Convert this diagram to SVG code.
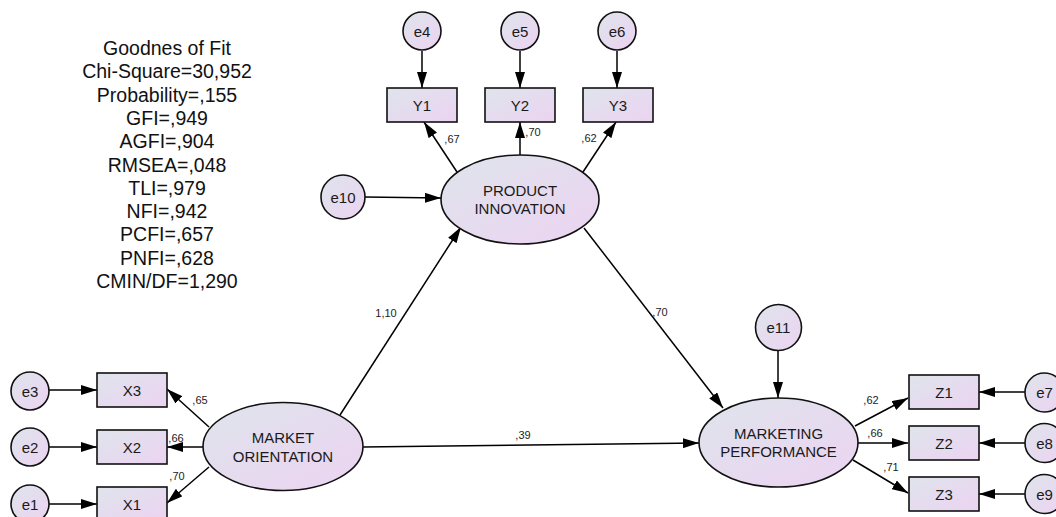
<svg xmlns="http://www.w3.org/2000/svg" width="1056" height="517" viewBox="0 0 1056 517">
<style>
.shape{fill:url(#g);stroke:#111;stroke-width:1.6}
.c{stroke:#000;stroke-width:1.5;fill:none;marker-end:url(#ah)}
.t{font-family:"Liberation Sans",Arial,sans-serif;font-size:15px;fill:#1a1a1a;text-anchor:middle}
.l{font-family:"Liberation Sans",Arial,sans-serif;font-size:11px;fill:#222;text-anchor:middle}
.fit{font-family:"Liberation Sans",Arial,sans-serif;font-size:19.5px;fill:#111;text-anchor:middle}
</style>
<defs>
<linearGradient id="g" x1="0" y1="0" x2="1" y2="1">
<stop offset="0" stop-color="#dfe4ec"/>
<stop offset="1" stop-color="#ecd3f1"/>
</linearGradient>
<marker id="ah" viewBox="0 0 16 10" refX="16" refY="5" markerWidth="16" markerHeight="10" orient="auto" markerUnits="userSpaceOnUse">
<path d="M0,0 L16,5 L0,10 z" fill="#000"/>
</marker>
</defs>
<rect width="1056" height="517" fill="#fff"/>

<g id="fit-text">
<text class="fit" x="167" y="55">Goodnes of Fit</text>
<text class="fit" x="167" y="78.3">Chi-Square=30,952</text>
<text class="fit" x="167" y="101.6">Probability=,155</text>
<text class="fit" x="167" y="124.9">GFI=,949</text>
<text class="fit" x="167" y="148.2">AGFI=,904</text>
<text class="fit" x="167" y="171.5">RMSEA=,048</text>
<text class="fit" x="167" y="194.8">TLI=,979</text>
<text class="fit" x="167" y="218.1">NFI=,942</text>
<text class="fit" x="167" y="241.4">PCFI=,657</text>
<text class="fit" x="167" y="264.7">PNFI=,628</text>
<text class="fit" x="167" y="288">CMIN/DF=1,290</text>
</g>

<g id="connectors">
<line class="c" x1="422" y1="51" x2="422" y2="88"/>
<line class="c" x1="520" y1="51" x2="520" y2="88"/>
<line class="c" x1="617" y1="51" x2="617" y2="88"/>
<line class="c" x1="457" y1="172" x2="424" y2="122"/>
<line class="c" x1="520" y1="155" x2="520" y2="122"/>
<line class="c" x1="583" y1="172" x2="616" y2="122"/>
<line class="c" x1="365" y1="197" x2="441" y2="198"/>
<line class="c" x1="209" y1="427" x2="167" y2="389"/>
<line class="c" x1="203" y1="447" x2="167" y2="447"/>
<line class="c" x1="209" y1="467" x2="167" y2="503"/>
<line class="c" x1="49" y1="390" x2="97" y2="390"/>
<line class="c" x1="49" y1="447" x2="97" y2="447"/>
<line class="c" x1="49" y1="504" x2="97" y2="504"/>
<line class="c" x1="340" y1="415" x2="461" y2="227"/>
<line class="c" x1="363" y1="447" x2="699" y2="443"/>
<line class="c" x1="584" y1="228" x2="723" y2="408"/>
<line class="c" x1="778" y1="350" x2="778" y2="398"/>
<line class="c" x1="855" y1="426" x2="908" y2="398"/>
<line class="c" x1="858" y1="443" x2="908" y2="443"/>
<line class="c" x1="853" y1="460" x2="908" y2="493"/>
<line class="c" x1="1025" y1="392" x2="979" y2="392"/>
<line class="c" x1="1025" y1="443" x2="979" y2="443"/>
<line class="c" x1="1025" y1="494" x2="979" y2="494"/>
<text class="l" x="452" y="143">,67</text>
<text class="l" x="533" y="136">,70</text>
<text class="l" x="589" y="142">,62</text>
<text class="l" x="200" y="404">,65</text>
<text class="l" x="176" y="442">,66</text>
<text class="l" x="177" y="480">,70</text>
<text class="l" x="386" y="317">1,10</text>
<text class="l" x="660" y="316">,70</text>
<text class="l" x="523" y="439">,39</text>
<text class="l" x="871" y="404">,62</text>
<text class="l" x="875" y="437">,66</text>
<text class="l" x="891" y="471">,71</text>
</g>

<g id="e4"><circle class="shape" cx="422" cy="31" r="19"/><text class="t" x="422" y="36.5">e4</text></g>
<g id="e5"><circle class="shape" cx="520" cy="31" r="19"/><text class="t" x="520" y="36.5">e5</text></g>
<g id="e6"><circle class="shape" cx="617" cy="31" r="19"/><text class="t" x="617" y="36.5">e6</text></g>
<g id="Y1"><rect class="shape" x="387" y="88" width="70" height="34"/><text class="t" x="422" y="110.5">Y1</text></g>
<g id="Y2"><rect class="shape" x="485" y="88" width="70" height="34"/><text class="t" x="520" y="110.5">Y2</text></g>
<g id="Y3"><rect class="shape" x="583" y="88" width="70" height="34"/><text class="t" x="618" y="110.5">Y3</text></g>
<g id="e10"><circle class="shape" cx="343" cy="197" r="22"/><text class="t" x="343" y="202.5">e10</text></g>
<g id="product-innovation"><ellipse class="shape" cx="520" cy="199.5" rx="79" ry="44.5"/><text class="t" x="520" y="195.5">PRODUCT</text><text class="t" x="520" y="213.5">INNOVATION</text></g>

<g id="e3"><circle class="shape" cx="30" cy="391" r="19"/><text class="t" x="30" y="396.5">e3</text></g>
<g id="e2"><circle class="shape" cx="30" cy="447" r="19"/><text class="t" x="30" y="452.5">e2</text></g>
<g id="e1"><circle class="shape" cx="30" cy="504" r="19"/><text class="t" x="30" y="509.5">e1</text></g>
<g id="X3"><rect class="shape" x="97" y="373" width="70" height="34"/><text class="t" x="132" y="395.5">X3</text></g>
<g id="X2"><rect class="shape" x="97" y="430" width="70" height="34"/><text class="t" x="132" y="452.5">X2</text></g>
<g id="X1"><rect class="shape" x="97" y="487" width="70" height="34"/><text class="t" x="132" y="509.5">X1</text></g>
<g id="market-orientation"><ellipse class="shape" cx="283" cy="446.5" rx="80" ry="44"/><text class="t" x="283" y="443">MARKET</text><text class="t" x="283" y="461.5">ORIENTATION</text></g>

<g id="e11"><circle class="shape" cx="778.5" cy="327.5" r="23"/><text class="t" x="778.5" y="333">e11</text></g>
<g id="marketing-performance"><ellipse class="shape" cx="778.5" cy="442.5" rx="79.5" ry="44.5"/><text class="t" x="778.5" y="439">MARKETING</text><text class="t" x="778.5" y="457">PERFORMANCE</text></g>
<g id="Z1"><rect class="shape" x="909" y="375" width="70" height="34"/><text class="t" x="944" y="397.5">Z1</text></g>
<g id="Z2"><rect class="shape" x="909" y="426" width="70" height="34"/><text class="t" x="944" y="448.5">Z2</text></g>
<g id="Z3"><rect class="shape" x="909" y="477" width="70" height="34"/><text class="t" x="944" y="499.5">Z3</text></g>
<g id="e7"><circle class="shape" cx="1044.5" cy="392.5" r="19.5"/><text class="t" x="1044.5" y="398">e7</text></g>
<g id="e8"><circle class="shape" cx="1044.5" cy="443" r="19.5"/><text class="t" x="1044.5" y="448.5">e8</text></g>
<g id="e9"><circle class="shape" cx="1044.5" cy="494" r="19.5"/><text class="t" x="1044.5" y="499.5">e9</text></g>
</svg>
